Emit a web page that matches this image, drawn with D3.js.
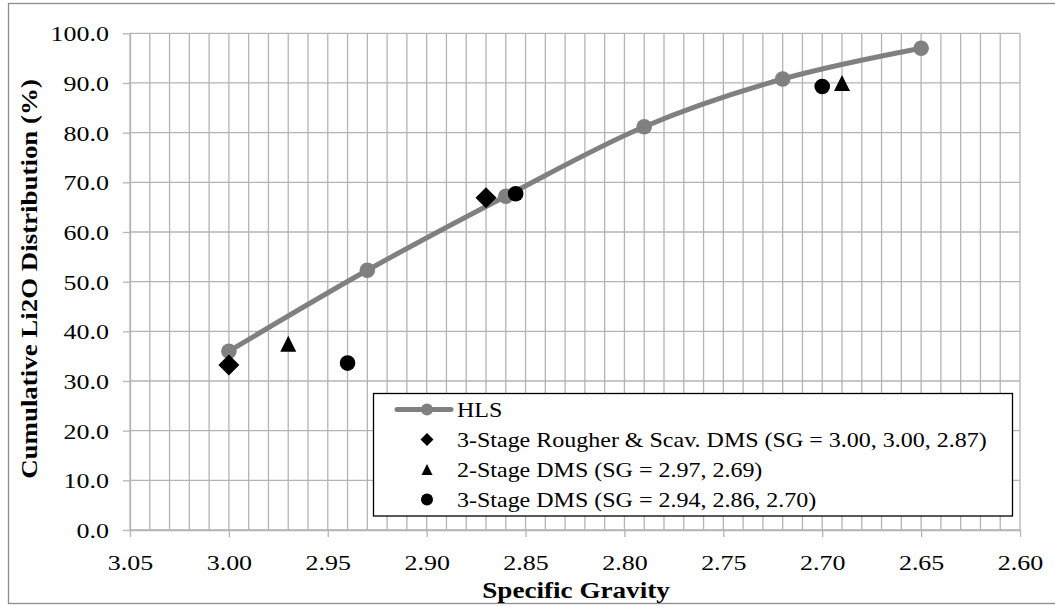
<!DOCTYPE html>
<html>
<head>
<meta charset="utf-8">
<script src="https://cdn.jsdelivr.net/npm/d3@7"></script>
<style>
  body { margin: 0; background: #fff; }
  svg { display: block; font-family: "Liberation Serif", "Times New Roman", serif; }
</style>
</head>
<body>
<div id="chart"></div>
<script>
// data
const hlsSG = [3.00, 2.93, 2.86, 2.79, 2.72, 2.65];
const hlsDist = [36.0, 52.3, 67.2, 81.2, 90.8, 97.0];

const rougherSG = [3.00, 2.87];
const rougherDist = [33.2, 66.9];

const twoStageSG = [2.97, 2.69];
const twoStageDist = [37.5, 90.0];

const threeStageSG = [2.94, 2.855, 2.70];
const threeStageDist = [33.6, 67.7, 89.3];

const xTicks = [3.05, 3.00, 2.95, 2.90, 2.85, 2.80, 2.75, 2.70, 2.65, 2.60];
const yTicks = [0, 10, 20, 30, 40, 50, 60, 70, 80, 90, 100];

const legendLabels = [
  "HLS",
  "3-Stage Rougher & Scav. DMS (SG = 3.00, 3.00, 2.87)",
  "2-Stage DMS (SG = 2.97, 2.69)",
  "3-Stage DMS (SG = 2.94, 2.86, 2.70)"
];

const width = 1055;
const height = 607;
const plot = { left: 130, right: 1020, top: 33.3, bottom: 530 };
const stretch = 1.18; // the picture's text runs a little wide

const gridColor = "#b4b4b4";
const lineColor = "#808080";

const svg = d3.select("#chart")
  .append("svg")
  .attr("width", width)
  .attr("height", height);

// outer chart border
svg.append("rect")
  .attr("x", 8.5).attr("y", 3.5)
  .attr("width", 1080).attr("height", 600)
  .attr("fill", "none")
  .attr("stroke", "#8c8c8c")
  .attr("stroke-width", 1.3);

const x = d3.scaleLinear().domain([3.05, 2.60]).range([plot.left, plot.right]);
const y = d3.scaleLinear().domain([0, 100]).range([plot.bottom, plot.top]);

// gridlines
const minor = d3.range(0, 46).map(i => 3.05 - i * 0.01);
svg.append("g")
  .selectAll("line")
  .data(minor)
  .join("line")
    .attr("x1", d => x(d)).attr("x2", d => x(d))
    .attr("y1", plot.top).attr("y2", plot.bottom)
    .attr("stroke", gridColor)
    .attr("stroke-width", 1.3);

svg.append("g")
  .selectAll("line")
  .data(yTicks)
  .join("line")
    .attr("x1", plot.left).attr("x2", plot.right)
    .attr("y1", d => y(d)).attr("y2", d => y(d))
    .attr("stroke", gridColor)
    .attr("stroke-width", 1.3);

// axes
const xAxis = svg.append("g")
  .attr("transform", `translate(0,${plot.bottom})`)
  .call(d3.axisBottom(x).tickValues(xTicks).tickSize(7).tickSizeOuter(0).tickFormat(d3.format(".2f")));

const yAxis = svg.append("g")
  .attr("transform", `translate(${plot.left},0)`)
  .call(d3.axisLeft(y).tickValues(yTicks).tickSize(7).tickSizeOuter(0).tickFormat(d3.format(".1f")));

[xAxis, yAxis].forEach(a => {
  a.attr("font-family", null);
  a.select(".domain").attr("stroke", gridColor).attr("stroke-width", 1.3);
  a.selectAll(".tick line").attr("stroke", gridColor).attr("stroke-width", 1.3);
  a.selectAll(".tick text")
    .attr("fill", "#000")
    .style("font-family", "'Liberation Serif', serif")
    .style("font-size", "22px");
});

xAxis.selectAll(".tick text")
  .attr("y", null).attr("dy", null)
  .attr("transform", `translate(0,40) scale(${stretch},1)`);

yAxis.selectAll(".tick text")
  .attr("x", null).attr("dy", null)
  .attr("transform", `translate(-21,7.5) scale(${stretch},1)`);

// axis titles
svg.append("text")
  .attr("transform", `translate(576,598) scale(${stretch},1)`)
  .attr("text-anchor", "middle")
  .style("font-size", "23px")
  .style("font-weight", "bold")
  .text("Specific Gravity");

svg.append("text")
  .attr("transform", `translate(37,279) rotate(-90) scale(1.17,1)`)
  .attr("text-anchor", "middle")
  .style("font-size", "23px")
  .style("font-weight", "bold")
  .text("Cumulative Li2O Distribution (%)");

// marker shapes, each centred on its point
const diamond = s => `M0,${-s}L${s},0L0,${s}L${-s},0Z`;
const triangle = s => `M0,${-s}L${s},${s}L${-s},${s}Z`;

// HLS smoothed line
const hls = hlsSG.map((d, i) => ({ sg: d, v: hlsDist[i] }));
const line = d3.line()
  .x(d => x(d.sg))
  .y(d => y(d.v))
  .curve(d3.curveCatmullRom.alpha(0));

svg.append("path")
  .datum(hls)
  .attr("d", line)
  .attr("fill", "none")
  .attr("stroke", lineColor)
  .attr("stroke-width", 5)
  .attr("stroke-linejoin", "round");

svg.append("g")
  .selectAll("circle")
  .data(hls)
  .join("circle")
    .attr("cx", d => x(d.sg))
    .attr("cy", d => y(d.v))
    .attr("r", 7.8)
    .attr("fill", lineColor);

// rougher & scav: diamonds
svg.append("g")
  .selectAll("path")
  .data(rougherSG.map((d, i) => ({ sg: d, v: rougherDist[i] })))
  .join("path")
    .attr("transform", d => `translate(${x(d.sg)},${y(d.v)})`)
    .attr("d", diamond(10.5))
    .attr("fill", "#000");

// 2-stage: triangles
svg.append("g")
  .selectAll("path")
  .data(twoStageSG.map((d, i) => ({ sg: d, v: twoStageDist[i] })))
  .join("path")
    .attr("transform", d => `translate(${x(d.sg)},${y(d.v)})`)
    .attr("d", triangle(8))
    .attr("fill", "#000");

// 3-stage: circles
svg.append("g")
  .selectAll("circle")
  .data(threeStageSG.map((d, i) => ({ sg: d, v: threeStageDist[i] })))
  .join("circle")
    .attr("cx", d => x(d.sg))
    .attr("cy", d => y(d.v))
    .attr("r", 7.8)
    .attr("fill", "#000");

// legend
const legend = svg.append("g").attr("transform", "translate(373,393.5)");
legend.append("rect")
  .attr("x", 0.5).attr("y", 0)
  .attr("width", 639).attr("height", 122.5)
  .attr("fill", "#fff")
  .attr("stroke", "#000")
  .attr("stroke-width", 1.3);

const rowY = i => 16 + i * 30;
const symX = 54;

legend.append("line")
  .attr("x1", 24).attr("x2", 78)
  .attr("y1", rowY(0)).attr("y2", rowY(0))
  .attr("stroke", lineColor).attr("stroke-width", 5).attr("stroke-linecap", "round");
legend.append("circle")
  .attr("cx", symX).attr("cy", rowY(0)).attr("r", 6).attr("fill", lineColor);
legend.append("path")
  .attr("transform", `translate(${symX},${rowY(1)})`)
  .attr("d", diamond(6.5)).attr("fill", "#000");
legend.append("path")
  .attr("transform", `translate(${symX},${rowY(2)})`)
  .attr("d", triangle(5.5)).attr("fill", "#000");
legend.append("circle")
  .attr("cx", symX).attr("cy", rowY(3)).attr("r", 6).attr("fill", "#000");

legend.selectAll("text.label")
  .data(legendLabels)
  .join("text")
    .attr("class", "label")
    .attr("transform", (d, i) => `translate(84,${rowY(i) + 7}) scale(1.2,1)`)
    .style("font-size", "20px")
    .text(d => d);
</script>
</body>
</html>
